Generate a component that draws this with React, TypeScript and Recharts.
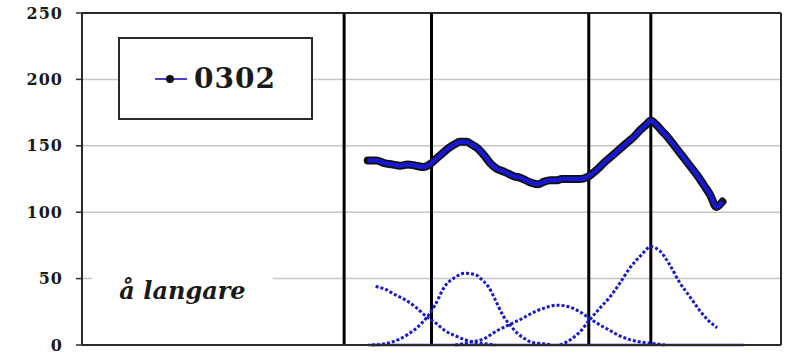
import {
  ComposedChart,
  Line,
  XAxis,
  YAxis,
  CartesianGrid,
  ReferenceLine,
} from "recharts";

// measured curve 0302
const mainX = [
  327, 337, 346, 355, 364, 373, 382, 391, 398, 405, 412, 419, 426, 433, 440,
  446, 453, 460, 467, 474, 481, 488, 494, 501, 508, 515, 522, 529, 536, 543,
  549, 556, 563, 570, 577, 584, 591, 597, 604, 611, 618, 625, 632, 639, 646,
  651, 657, 664, 671, 678, 684, 691, 698, 705, 712, 719, 726, 733,
];
const mainY = [
  139, 139, 137, 136, 135, 136, 135, 134, 136, 140, 144, 148, 151, 153, 153,
  151, 148, 143, 137, 133, 131, 129, 127, 126, 124, 122, 121, 123, 124, 124,
  125, 125, 125, 125, 126, 129, 133, 137, 141, 145, 149, 153, 157, 162, 166,
  169, 166, 161, 156, 150, 145, 139, 133, 127, 120, 113, 104, 108,
];

// fitted components
const comp1X = [336, 347, 358, 370, 381, 393, 404, 415, 427, 438, 450, 461, 473];
const comp1Y = [44, 42, 38, 34, 29, 22, 17, 11, 7, 4, 2, 1, 0];

const comp2X = [
  332, 347, 362, 373, 385, 396, 404, 415, 427, 438, 450, 458, 465, 473, 482,
  490, 498, 506, 515, 527, 538,
];
const comp2Y = [0, 1, 4, 8, 14, 22, 30, 44, 51, 54, 53, 49, 44, 34, 22, 15, 9, 5, 2, 1, 0];

const comp3X = [
  427, 444, 461, 473, 488, 501, 518, 530, 544, 556, 570, 581, 593, 604, 612,
  627, 642, 656, 667,
];
const comp3Y = [0, 2, 5, 10, 15, 19, 25, 28, 30, 29, 25, 20, 15, 11, 8, 4, 2, 1, 0];

const comp4X = [547, 559, 570, 581, 593, 604, 616, 627, 639, 651, 661, 673, 684, 695, 707, 716, 727];
const comp4Y = [0, 4, 10, 19, 28, 36, 47, 58, 67, 74, 71, 60, 47, 37, 26, 19, 13];

const baseX = [327, 758];
const baseY = [0, 0];

const markers = [300, 400, 580, 651];
const xTicks = [0, 100, 200, 300, 400, 500, 600, 700, 800];
const yTicks = [0, 50, 100, 150, 200, 250];

const toRows = (xs: number[], ys: number[]) => xs.map((x, i) => ({ x, y: ys[i] }));

const BLUE = "#1818d0";
const DARK = "#2a2a2a";
const FONT = "'DejaVu Serif', Georgia, serif";

export default function App() {
  const main = toRows(mainX, mainY);
  const components = [
    toRows(comp1X, comp1Y),
    toRows(comp2X, comp2Y),
    toRows(comp3X, comp3Y),
    toRows(comp4X, comp4Y),
  ];
  const base = toRows(baseX, baseY);

  return (
    <div
      style={{
        position: "absolute",
        left: 0,
        top: 0,
        width: 804,
        height: 352,
        overflow: "hidden",
        background: "#fff",
      }}
    >
      <ComposedChart width={804} height={375} margin={{ top: 13, right: 23, bottom: 0, left: 0 }}>
        <CartesianGrid stroke="#c6c6c6" strokeWidth={1.5} />
        <XAxis
          type="number"
          dataKey="x"
          domain={[0, 800]}
          ticks={xTicks}
          tick={false}
          tickSize={6}
          axisLine={{ stroke: DARK, strokeWidth: 2 }}
          tickLine={{ stroke: DARK, strokeWidth: 1.5 }}
        />
        <YAxis
          type="number"
          domain={[0, 250]}
          ticks={yTicks}
          width={82}
          tickSize={6}
          tickMargin={13}
          axisLine={{ stroke: DARK, strokeWidth: 2 }}
          tickLine={{ stroke: DARK, strokeWidth: 1.5 }}
          tick={{ fill: "#1a1a1a", fontSize: 16, fontWeight: 700, fontFamily: FONT, letterSpacing: 1 }}
        />
        <ReferenceLine y={250} stroke={DARK} strokeWidth={2} />
        <ReferenceLine x={800} stroke={DARK} strokeWidth={2} />
        {markers.map((m) => (
          <ReferenceLine key={m} x={m} stroke="#000" strokeWidth={3} />
        ))}

        <Line
          data={base}
          dataKey="y"
          stroke={BLUE}
          strokeWidth={2.5}
          dot={false}
          activeDot={false}
          isAnimationActive={false}
        />
        {components.map((rows, i) => (
          <Line
            key={i}
            data={rows}
            dataKey="y"
            type="monotone"
            stroke={BLUE}
            strokeWidth={3}
            strokeDasharray="3 2"
            dot={false}
            activeDot={false}
            isAnimationActive={false}
          />
        ))}

        {/* black marker band under a blue trace */}
        <Line
          data={main}
          dataKey="y"
          type="monotone"
          stroke="#111"
          strokeWidth={8}
          strokeLinecap="round"
          dot={false}
          activeDot={false}
          isAnimationActive={false}
        />
        <Line
          data={main}
          dataKey="y"
          type="monotone"
          stroke={BLUE}
          strokeWidth={4.5}
          dot={false}
          activeDot={false}
          isAnimationActive={false}
        />
      </ComposedChart>

      {/* legend box */}
      <div
        style={{
          position: "absolute",
          left: 118,
          top: 37,
          width: 191,
          height: 79,
          border: `2px solid ${DARK}`,
          background: "#fff",
          display: "flex",
          alignItems: "center",
          justifyContent: "center",
        }}
      >
        <svg width={32} height={10} style={{ marginRight: 7 }}>
          <line x1={0} y1={5} x2={32} y2={5} stroke="#4a3ccc" strokeWidth={2} />
          <circle cx={15} cy={5} r={4} fill="#111" />
        </svg>
        <span style={{ fontFamily: FONT, fontWeight: 700, fontSize: 28, color: "#1a1a1a", letterSpacing: 1 }}>
          0302
        </span>
      </div>

      {/* annotation */}
      <div
        style={{
          position: "absolute",
          left: 92,
          top: 263,
          width: 181,
          height: 54,
          background: "#fff",
          display: "flex",
          alignItems: "center",
          justifyContent: "center",
          fontFamily: FONT,
          fontStyle: "italic",
          fontWeight: 700,
          fontSize: 24,
          color: "#1a1a1a",
        }}
      >
        å langare
      </div>
    </div>
  );
}
